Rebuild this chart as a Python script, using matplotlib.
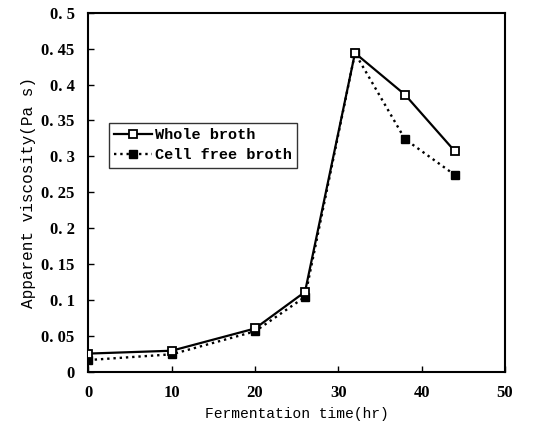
import matplotlib
matplotlib.use("Agg")
import matplotlib.pyplot as plt
from matplotlib.ticker import FixedLocator, FixedFormatter

time_hr = [0, 10, 20, 26, 32, 38, 44]
whole_broth = [0.025, 0.029, 0.060, 0.111, 0.444, 0.386, 0.307]
cell_free_broth = [0.016, 0.024, 0.056, 0.104, 0.444, 0.324, 0.274]

y_ticks = [0, 0.05, 0.1, 0.15, 0.2, 0.25, 0.3, 0.35, 0.4, 0.45, 0.5]
y_tick_labels = ["0", "0. 05", "0. 1", "0. 15", "0. 2", "0. 25", "0. 3",
                 "0. 35", "0. 4", "0. 45", "0. 5"]
x_ticks = [0, 10, 20, 30, 40, 50]

MONO = ["Liberation Mono", "DejaVu Sans Mono"]
SERIF = ["Liberation Serif", "DejaVu Serif"]
plt.rcParams["font.family"] = MONO


def main():
    fig = plt.figure(figsize=(5.36, 4.30), dpi=100)
    ax = fig.add_axes([0.165, 0.136, 0.777, 0.834])

    ax.plot(time_hr, whole_broth, "-", color="black", lw=1.6,
            marker="s", ms=5.5, mfc="white", mec="black", mew=1.3,
            label="Whole broth", zorder=3)
    ax.plot(time_hr, cell_free_broth, ":", color="black", lw=1.7,
            marker="s", ms=5.5, mfc="black", mec="black",
            label="Cell free broth", zorder=2)

    ax.set_xlim(0, 50)
    ax.set_ylim(0, 0.5)
    ax.xaxis.set_major_locator(FixedLocator(x_ticks))
    ax.yaxis.set_major_locator(FixedLocator(y_ticks))
    ax.yaxis.set_major_formatter(FixedFormatter(y_tick_labels))
    ax.tick_params(direction="in", length=4, width=1, pad=10)
    for lab in ax.get_xticklabels() + ax.get_yticklabels():
        lab.set_fontfamily(SERIF)
        lab.set_fontweight("bold")
        lab.set_fontsize(12)
    for s in ax.spines.values():
        s.set_linewidth(1.5)

    ax.set_xlabel("Fermentation time(hr)", fontsize=10.5, labelpad=4)
    ax.set_ylabel("Apparent viscosity(Pa s)", fontsize=11.5, labelpad=4)

    leg = ax.legend(loc="upper left", bbox_to_anchor=(0.03, 0.715),
                    prop={"family": MONO, "size": 11, "weight": "bold"},
                    frameon=True, fancybox=False,
                    edgecolor="black", handlelength=2.5, borderpad=0.35,
                    labelspacing=0.4, handletextpad=0.2)
    leg.get_frame().set_linewidth(1.0)

    fig.savefig("out.png", dpi=100)


if __name__ == "__main__":
    main()
